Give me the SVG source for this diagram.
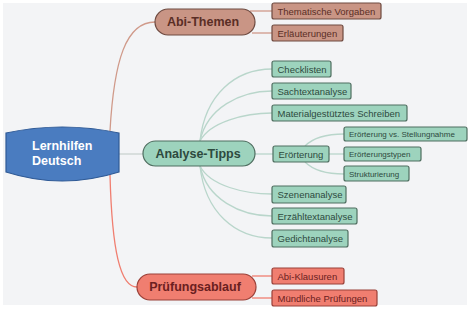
<svg xmlns="http://www.w3.org/2000/svg" width="474" height="311" viewBox="0 0 474 311">
<style>
.main{font-family:"Liberation Sans",Arial,sans-serif;font-weight:bold;font-size:12.5px;text-anchor:middle;dominant-baseline:central}
.leaf{font-family:"Liberation Sans",Arial,sans-serif;font-size:9.5px;dominant-baseline:central}
.sub{font-family:"Liberation Sans",Arial,sans-serif;font-size:8px;dominant-baseline:central}
.g rect{fill:#9dd3bd;stroke:#4f6e60;stroke-width:1.2}
.g text{fill:#2d4a3e}
.b rect{fill:#c99585;stroke:#6e4a40;stroke-width:1.2}
.b text{fill:#5a2e25}
.r rect{fill:#f07e70;stroke:#9a4038;stroke-width:1.2}
.r text{fill:#6a2020}
.c{fill:none;stroke-width:1.3}
.cg{stroke:#b9d6cb}
.cb{stroke:#d09a8a}
.cr{stroke:#f07e70}
</style>
<rect x="0" y="0" width="474" height="311" fill="#ffffff"/>
<rect x="3" y="3" width="464" height="302" fill="#f3f4f6"/>
<g id="connectors">
<path class="c cb" d="M110,131 C114,60 126,22 155,22"/>
<path class="c cr" d="M110,175 C112,250 120,287 137,287"/>
<path class="c" stroke="#c9d3d0" d="M119,154 L143,154"/>
<path class="c cb" d="M250,11 L272,11"/>
<path class="c cb" d="M252,33 L272,33"/>
<path class="c cg" d="M200,141 C205,95 235,69 272,69"/>
<path class="c cg" d="M200,141 C207,108 240,91 272,91"/>
<path class="c cg" d="M200,141 C210,122 245,113 272,113"/>
<path class="c cg" d="M255,154 L273,154"/>
<path class="c cg" d="M200,166 C210,186 245,194 272,194"/>
<path class="c cg" d="M200,166 C207,199 240,216 272,216"/>
<path class="c cg" d="M200,166 C205,212 235,238 272,238"/>
<path class="c cg" d="M305,146 C315,136 330,134 344,134"/>
<path class="c cg" d="M329,154 L344,154"/>
<path class="c cg" d="M305,162 C315,172 330,174 344,174"/>
<path class="c cr" d="M252,276 L272,276"/>
<path class="c cr" d="M252,298 L272,298"/>
</g>
<g id="root">
<path d="M6,133 Q62,121 119,133 L119,172 Q62,190 6,172 Z" fill="#4a7cc0" stroke="#2f5a96" stroke-width="1.2"/>
<text x="32" y="146" font-family="Liberation Sans,Arial,sans-serif" font-weight="bold" font-size="12.5" fill="#ffffff" dominant-baseline="central">Lernhilfen</text>
<text x="32" y="161" font-family="Liberation Sans,Arial,sans-serif" font-weight="bold" font-size="12.5" fill="#ffffff" dominant-baseline="central">Deutsch</text>
</g>
<g id="abi-themen" class="b">
<rect x="155" y="9" width="100" height="26" rx="13"/>
<text class="main" x="203" y="22">Abi-Themen</text>
</g>
<g id="analyse-tipps" class="g">
<rect x="143" y="141" width="112" height="25" rx="12.5"/>
<text class="main" x="198" y="154">Analyse-Tipps</text>
</g>
<g id="pruefungsablauf" class="r">
<rect x="137" y="274" width="119" height="26" rx="13"/>
<text class="main" x="195" y="287">Prüfungsablauf</text>
</g>
<g id="thematische-vorgaben" class="b">
<rect x="272" y="3" width="109" height="16" rx="2"/>
<text class="leaf" x="277.5" y="11.5">Thematische Vorgaben</text>
</g>
<g id="erlaeuterungen" class="b">
<rect x="272" y="25" width="71" height="16" rx="2"/>
<text class="leaf" x="277.5" y="33.5">Erläuterungen</text>
</g>
<g id="checklisten" class="g">
<rect x="272" y="61" width="59" height="16" rx="2"/>
<text class="leaf" x="277.5" y="69.5">Checklisten</text>
</g>
<g id="sachtextanalyse" class="g">
<rect x="272" y="83" width="79" height="16" rx="2"/>
<text class="leaf" x="277.5" y="91.5">Sachtextanalyse</text>
</g>
<g id="materialgestuetztes-schreiben" class="g">
<rect x="272" y="105" width="135" height="16" rx="2"/>
<text class="leaf" x="277.5" y="113.5">Materialgestütztes Schreiben</text>
</g>
<g id="eroerterung" class="g">
<rect x="273" y="146" width="56" height="16" rx="2"/>
<text class="leaf" x="278.5" y="154.5">Erörterung</text>
</g>
<g id="eroerterung-vs-stellungnahme" class="g">
<rect x="344" y="127" width="123" height="14" rx="2"/>
<text class="sub" x="349" y="134.5">Erörterung vs. Stellungnahme</text>
</g>
<g id="eroerterungstypen" class="g">
<rect x="344" y="147" width="77" height="14" rx="2"/>
<text class="sub" x="349" y="154.5">Erörterungstypen</text>
</g>
<g id="strukturierung" class="g">
<rect x="344" y="166" width="65" height="15" rx="2"/>
<text class="sub" x="349" y="174">Strukturierung</text>
</g>
<g id="szenenanalyse" class="g">
<rect x="272" y="186" width="74" height="17" rx="2"/>
<text class="leaf" x="277.5" y="194.5">Szenenanalyse</text>
</g>
<g id="erzaehltextanalyse" class="g">
<rect x="272" y="208" width="85" height="16" rx="2"/>
<text class="leaf" x="277.5" y="216.5">Erzähltextanalyse</text>
</g>
<g id="gedichtanalyse" class="g">
<rect x="272" y="230" width="76" height="17" rx="2"/>
<text class="leaf" x="277.5" y="238.5">Gedichtanalyse</text>
</g>
<g id="abi-klausuren" class="r">
<rect x="272" y="268" width="72" height="16" rx="2"/>
<text class="leaf" x="277.5" y="276.5">Abi-Klausuren</text>
</g>
<g id="muendliche-pruefungen" class="r">
<rect x="272" y="290" width="105" height="16" rx="2"/>
<text class="leaf" x="277.5" y="298.5">Mündliche Prüfungen</text>
</g>
</svg>
